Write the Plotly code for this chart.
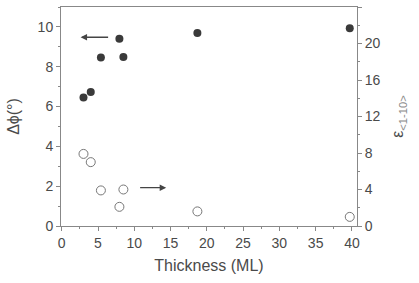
import plotly.graph_objects as go

# Data
thickness = [3.0, 4.0, 5.4, 7.95, 8.5, 18.7, 39.7]
delta_phi = [6.46, 6.73, 8.46, 9.41, 8.49, 9.70, 9.93]
epsilon = [7.9, 7.0, 3.9, 2.1, 4.0, 1.6, 1.0]

x_ticks = [0, 5, 10, 15, 20, 25, 30, 35, 40]
y_ticks = [0, 2, 4, 6, 8, 10]
y2_ticks = [0, 4, 8, 12, 16, 20, 24]

# arrows: (tail_x, head_x, y)
arrow_left = (6.6, 2.6, 9.48)
arrow_right = (10.6, 14.4, 4.2)

font = dict(family="Liberation Sans, Arial, sans-serif", size=13, color="#4a4a4a")
axcol = "#888"

fig = go.Figure()
fig.add_trace(go.Scatter(
    x=thickness, y=delta_phi, mode="markers",
    marker=dict(symbol="circle", size=8, color="#3a3a3a", line=dict(width=0)),
    showlegend=False))
fig.add_trace(go.Scatter(
    x=thickness, y=epsilon, mode="markers", yaxis="y2",
    marker=dict(symbol="circle-open", size=9, color="#777", line=dict(width=1)),
    showlegend=False))

fig.add_annotation(x=arrow_left[1], y=arrow_left[2], ax=arrow_left[0], ay=arrow_left[2],
                   xref="x", yref="y", axref="x", ayref="y", text="",
                   showarrow=True, arrowhead=2, arrowsize=1, arrowwidth=1.3, arrowcolor="#444")
fig.add_annotation(x=arrow_right[1], y=arrow_right[2], ax=arrow_right[0], ay=arrow_right[2],
                   xref="x", yref="y2", axref="x", ayref="y2", text="",
                   showarrow=True, arrowhead=2, arrowsize=1, arrowwidth=1.3, arrowcolor="#444")

fig.update_layout(
    width=419, height=283,
    margin=dict(l=61, r=62, t=7, b=57),
    paper_bgcolor="white", plot_bgcolor="white",
    font=font,
    xaxis=dict(range=[-0.1, 40.7], tickvals=x_ticks, showgrid=False, zeroline=False,
               showline=True, linecolor=axcol, linewidth=1, mirror=True,
               ticks="outside", ticklen=4, tickcolor=axcol,
               minor=dict(ticks="outside", ticklen=2, dtick=2.5, tickcolor=axcol),
               title=dict(text="Thickness (ML)", standoff=10), tickfont=dict(size=14)),
    yaxis=dict(range=[0, 11], tickvals=y_ticks, showgrid=False, zeroline=False,
               showline=True, linecolor=axcol, linewidth=1,
               ticks="outside", ticklen=4, tickcolor=axcol,
               minor=dict(ticks="outside", ticklen=2, dtick=1, tickcolor=axcol),
               title=dict(text="Δϕ(°)", standoff=14), tickfont=dict(size=14)),
    yaxis2=dict(range=[0, 24], tickvals=y2_ticks, overlaying="y", side="right",
                showgrid=False, zeroline=False,
                showline=True, linecolor=axcol, linewidth=1,
                ticks="outside", ticklen=4, tickcolor=axcol,
                minor=dict(ticks="outside", ticklen=2, dtick=2, tickcolor=axcol),
                title=dict(text="ε<sub><span style='color:#888'>&lt;1-10&gt;</span></sub>",
                           standoff=12), tickfont=dict(size=14)),
)

fig.write_html("out.html")
